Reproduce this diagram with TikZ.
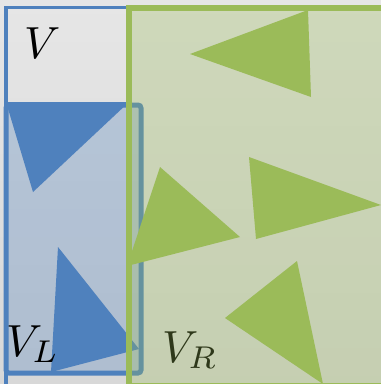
\documentclass[tikz,border=0pt]{standalone}
\usepackage{graphicx}
\definecolor{bblue}{HTML}{4F81BD}
\definecolor{ggreen}{HTML}{9BBB59}
\definecolor{bgray}{HTML}{E6E6E6}
\newcommand{\biglbl}[1]{\scalebox{4.5}{$#1$}}
\tikzset{
  lbl/.style={inner sep=0pt, anchor=base west},
  btri/.style={fill=bblue, draw=none},
  gtri/.style={fill=ggreen, draw=none},
}
\begin{document}
\begin{tikzpicture}[x=1pt,y=-1pt]
\useasboundingbox (0,0) rectangle (381,384);
\clip (0,0) rectangle (381,384);
\shade[top color=bgray, bottom color=bgray!94!black] (0,0) rectangle (381,384);
% V region
\draw[bblue, line width=3.5] (6,7.5) rectangle (420,388);
% V_L region
\draw[bblue, line width=5, rounded corners=3, fill=bblue, fill opacity=0.3, draw opacity=1] (6,105) rectangle (141,373);
% blue triangles
\fill[btri] (6,102) -- (129,102) -- (33,192) -- cycle;
\fill[btri] (58,247) -- (139,349) -- (51,372) -- cycle;
% labels
\node[lbl] (v) at (24,58) {\biglbl{V}};
\node[lbl] (vl) at (6,356) {\biglbl{V_L}};
\node[lbl] (vr) at (162,362) {\biglbl{V_R}};
% V_R region
\draw[ggreen, line width=6, fill=ggreen, fill opacity=0.3, draw opacity=1] (129,8) rectangle (420,386);
% green triangles
\fill[gtri] (190,54) -- (308,10) -- (311,97) -- cycle;
\fill[gtri] (160,167) -- (240,237) -- (127,266) -- cycle;
\fill[gtri] (249,157) -- (381,205) -- (256,239) -- cycle;
\fill[gtri] (297,261) -- (323,384) -- (225,318) -- cycle;
\end{tikzpicture}
\end{document}
